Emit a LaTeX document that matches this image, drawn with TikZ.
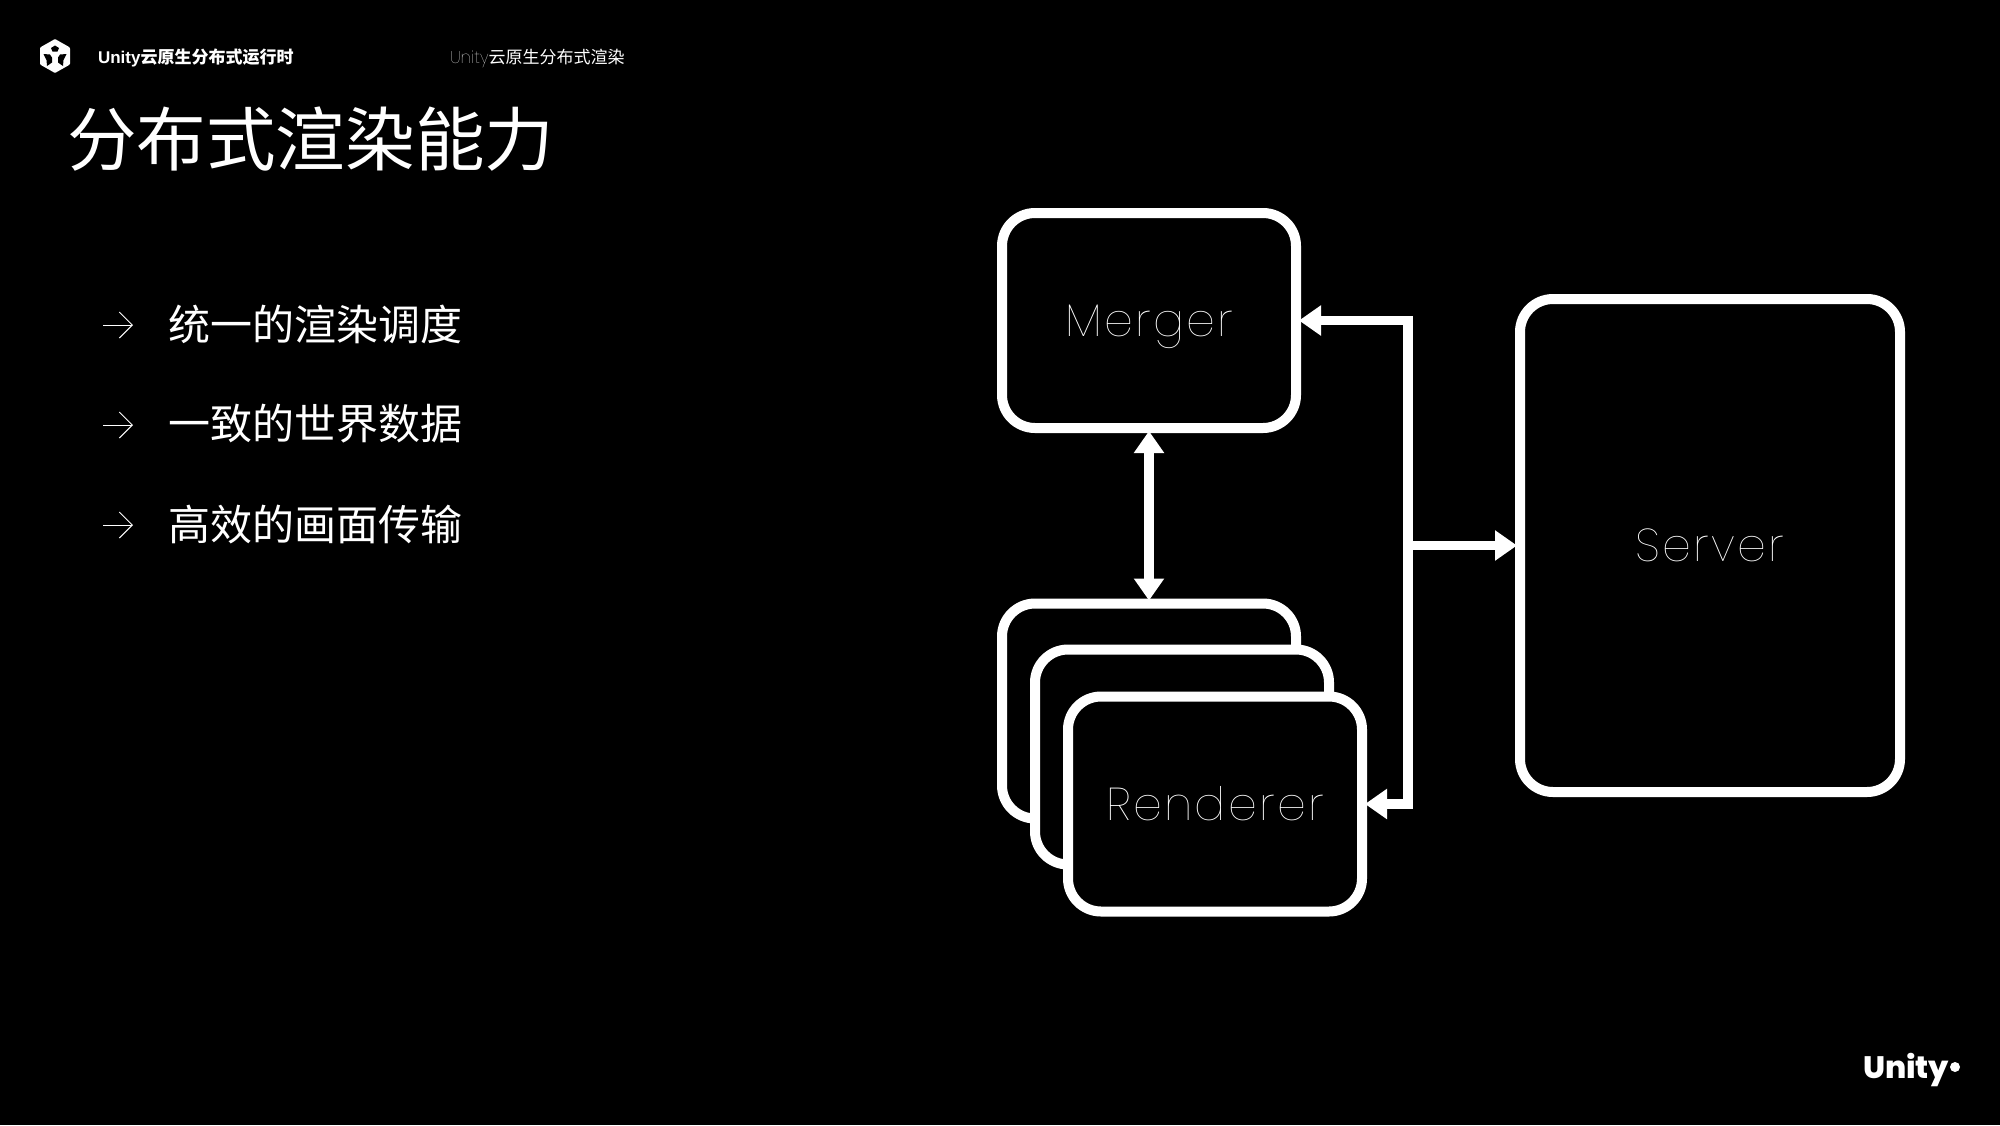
\documentclass[tikz,border=0pt]{standalone}
\usepackage{fontspec}
\usetikzlibrary{arrows.meta}
\setmainfont{Liberation Sans}
\newfontfamily\cjk{Noto Sans CJK SC}
\newfontfamily\thinfont[LetterSpace=5]{Poppins Thin}
\newfontfamily\thinplain{Poppins Thin}
\newfontfamily\logofont{Poppins ExtraBold}
\tikzset{
  box/.style={draw=white,fill=black,line width=10pt,rounded corners=33pt,inner sep=0pt,text depth=0pt,minimum width=294pt,minimum height=215pt,text=white},
  link/.style={draw=white,line width=9.5pt,shorten >=-2pt,shorten <=-2pt,{Triangle[length=22pt,width=29pt]}-{Triangle[length=22pt,width=29pt]}},
  oneway/.style={draw=white,line width=9.5pt,shorten >=-2pt,-{Triangle[length=22pt,width=29pt]}},
  lead/.style={draw=white,line width=1pt,-{Straight Barb[length=13pt,width=26pt,line width=1pt]}},
  txt/.style={text=white,inner sep=0pt,outer sep=0pt,anchor=west},
  item/.style={txt,font=\fontsize{42}{44}\selectfont\cjk},
  head/.style={txt,font=\fontsize{17}{18}\selectfont},
}
\begin{document}
\begin{tikzpicture}[x=1pt,y=-1pt]
\fill[black] (0,0) rectangle (2000,1125);
\useasboundingbox (0,0) rectangle (2000,1125);
% logo cube
\fill[white,rounded corners=1pt] (55,39) -- (70,47.5) -- (70,64.5) -- (55,73) -- (40,64.5) -- (40,47.5) -- cycle;
\fill[black] (55,45.5) -- (59,48) -- (57.5,51.5) -- (52.5,51.5) -- (51,48) -- cycle;
\fill[black] (43.5,54) -- (50,54.5) -- (52,57.5) -- (52,62.5) -- (47,66) -- (46.5,60) -- cycle;
\fill[black] (66.5,54) -- (60,54.5) -- (58,57.5) -- (58,62.5) -- (63,66) -- (63.5,60) -- cycle;
% header
\node[head,font=\fontsize{17}{18}\selectfont\bfseries] (h1) at (98,58) {Unity{\cjk\bfseries 云原生分布式运行时}};
\node[head] (h2) at (450,58) {{\thinplain Unity}{\cjk 云原生分布式渲染}};
% title
\node[txt,font=\fontsize{69.6}{72}\selectfont\cjk] (title) at (67,139) {分布式渲染能力};
% bullets
\coordinate (a1s) at (103,325); \coordinate (a1e) at (133,325);
\coordinate (a2s) at (103,425); \coordinate (a2e) at (133,425);
\coordinate (a3s) at (103,525); \coordinate (a3e) at (133,525);
\draw[lead] (a1s) -- (a1e);
\draw[lead] (a2s) -- (a2e);
\draw[lead] (a3s) -- (a3e);
\node[item] (b1) at (168,324) {统一的渲染调度};
\node[item] (b2) at (168,424) {一致的世界数据};
\node[item] (b3) at (168,525) {高效的画面传输};
% boxes
\node[box] (merger) at (1149,320.5) {\fontsize{46}{46}\selectfont\thinfont Merger};
\node[box] (back) at (1149,711) {};
\node[box] (mid) at (1182,757) {};
\node[box] (front) at (1215,804) {\raisebox{1pt}{\fontsize{46}{46}\selectfont\thinfont Renderer}};
\node[box,minimum width=380pt,minimum height=493pt] (server) at (1710,545.5) {\fontsize{46}{46}\selectfont\thinfont Server};
% connectors
\coordinate (bus) at (1408,545.5);
\draw[link] (merger.south) -- (back.north);
\draw[oneway] (bus) |- (merger.east);
\draw[oneway] (bus) |- (front.east);
\draw[oneway] (bus) -- (server.west);
% brand
\node[txt,font=\fontsize{31}{31}\selectfont\logofont] (brand) at (1863,1070) {Unity};
\fill[white] (1955,1067) circle (5);
\end{tikzpicture}
\end{document}
